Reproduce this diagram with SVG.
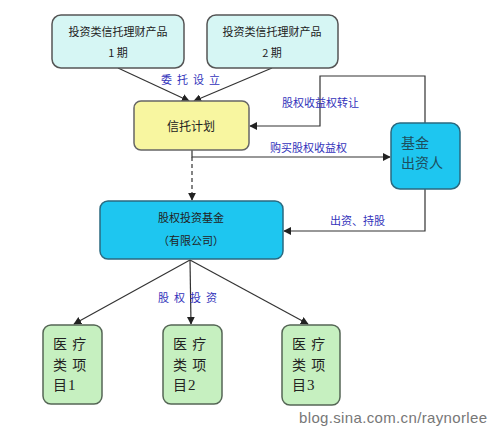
<svg xmlns="http://www.w3.org/2000/svg" width="490" height="431" viewBox="0 0 490 431">
<defs>
<marker id="ah" viewBox="0 0 10 10" refX="9" refY="5" markerWidth="8" markerHeight="8" markerUnits="userSpaceOnUse" orient="auto"><path d="M0,0 L10,5 L0,10 z" fill="#222"/></marker>
<style>
.t{font-family:"Noto Sans CJK SC","Liberation Sans",sans-serif;fill:#222;}
.pt{font-family:"Noto Sans CJK SC","Liberation Sans",sans-serif;fill:#222;font-size:14px;letter-spacing:1px;}
.lbl{font-family:"Noto Sans CJK SC","Liberation Sans",sans-serif;fill:#3333bb;font-size:11px;}
.ln{fill:none;stroke:#333;stroke-width:1.2;}
.top{fill:#d6f6f4;stroke:#555;stroke-width:1.5;}
.trust{fill:#f8f6a0;stroke:#666;stroke-width:1.5;}
.blue{fill:#1ec6f0;stroke:#2a6a80;stroke-width:1.5;}
.proj{fill:#c6f0c0;stroke:#556655;stroke-width:1.5;}
</style>
</defs>
<rect width="490" height="431" fill="#fff"/>
<g id="connectors">
<line class="ln" x1="118" y1="68" x2="189" y2="101" marker-end="url(#ah)"/>
<line class="ln" x1="272" y1="68" x2="194" y2="101" marker-end="url(#ah)"/>
<polyline class="ln" points="425,123 425,76 320,76 320,126 250,126" marker-end="url(#ah)"/>
<polyline class="ln" points="192,150 192,157 390,157" marker-end="url(#ah)"/>
<line class="ln" x1="192" y1="157" x2="192" y2="200" stroke-dasharray="4,3" marker-end="url(#ah)"/>
<polyline class="ln" points="425,189 425,231 284,231" marker-end="url(#ah)"/>
<line class="ln" x1="190" y1="260" x2="74" y2="324" marker-end="url(#ah)"/>
<line class="ln" x1="190" y1="260" x2="191" y2="324" marker-end="url(#ah)"/>
<line class="ln" x1="190" y1="260" x2="308" y2="324" marker-end="url(#ah)"/>
<text class="lbl" x="161" y="84" letter-spacing="5">委托设立</text>
<text class="lbl" x="282" y="107">股权收益权转让</text>
<text class="lbl" x="270" y="152">购买股权收益权</text>
<text class="lbl" x="330" y="225">出资、持股</text>
<text class="lbl" x="158" y="302" letter-spacing="5">股权投资</text>
</g>
<g id="n1">
<rect class="top" x="52" y="15" width="132" height="53" rx="9"/>
<text class="t" x="118" y="36" font-size="11" text-anchor="middle">投资类信托理财产品</text>
<text class="t" x="118" y="57" font-size="11" text-anchor="middle">1 期</text>
</g>
<g id="n2">
<rect class="top" x="207" y="15" width="131" height="53" rx="9"/>
<text class="t" x="272" y="36" font-size="11" text-anchor="middle">投资类信托理财产品</text>
<text class="t" x="272" y="57" font-size="11" text-anchor="middle">2 期</text>
</g>
<g id="trust">
<rect class="trust" x="134" y="101" width="115" height="49" rx="7"/>
<text class="t" x="191" y="131" font-size="12" text-anchor="middle">信托计划</text>
</g>
<g id="investor">
<rect class="blue" x="391" y="123" width="69" height="66" rx="9"/>
<text class="t" x="401" y="148" font-size="14" style="fill:#1d4f5e">基金</text>
<text class="t" x="401" y="168" font-size="14" style="fill:#1d4f5e">出资人</text>
</g>
<g id="fund">
<rect class="blue" x="100" y="201" width="183" height="58" rx="8"/>
<text class="t" x="191" y="222" font-size="11" text-anchor="middle">股权投资基金</text>
<text class="t" x="191" y="245" font-size="11" text-anchor="middle">（有限公司）</text>
</g>
<g id="p1">
<rect class="proj" x="43" y="325" width="59" height="79" rx="8"/>
<text class="pt" x="53" y="349">医 疗</text>
<text class="pt" x="53" y="369.5">类 项</text>
<text class="pt" x="53" y="390">目<tspan font-family="Liberation Serif" font-size="15">1</tspan></text>
</g>
<g id="p2">
<rect class="proj" x="163" y="325" width="59" height="79" rx="8"/>
<text class="pt" x="173" y="349">医 疗</text>
<text class="pt" x="173" y="369.5">类 项</text>
<text class="pt" x="173" y="390">目<tspan font-family="Liberation Serif" font-size="15">2</tspan></text>
</g>
<g id="p3">
<rect class="proj" x="282" y="325" width="58" height="80" rx="8"/>
<text class="pt" x="292" y="349">医 疗</text>
<text class="pt" x="292" y="369.5">类 项</text>
<text class="pt" x="292" y="390">目<tspan font-family="Liberation Serif" font-size="15">3</tspan></text>
</g>
<text x="299" y="423" font-family="Liberation Sans, sans-serif" font-size="15" fill="#777" textLength="188">blog.sina.com.cn/raynorlee</text>
</svg>
